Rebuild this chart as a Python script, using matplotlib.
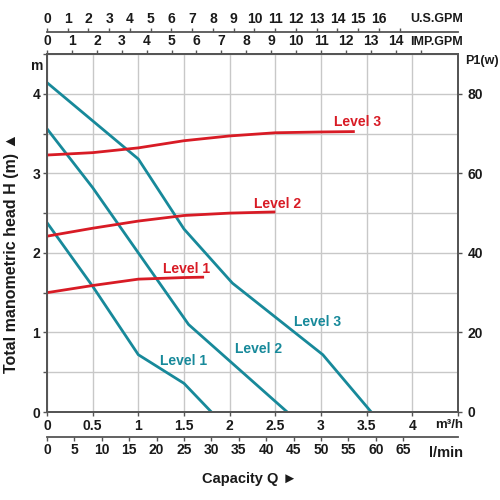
import matplotlib
matplotlib.use("Agg")
import matplotlib.pyplot as plt
import numpy as np

plt.rcParams['font.family'] = ['Liberation Sans', 'DejaVu Sans']
plt.rcParams['font.weight'] = 'bold'

# Head curves (Q in m3/h, H in m)
h1_q = [0.0, 0.5, 1.0, 1.5, 1.8]
h1_h = [2.38, 1.58, 0.72, 0.36, 0.0]
h2_q = [0.0, 0.5, 1.0, 1.55, 2.63]
h2_h = [3.56, 2.82, 2.0, 1.1, 0.0]
h3_q = [0.0, 0.5, 1.0, 1.5, 2.03, 3.02, 3.55]
h3_h = [4.14, 3.66, 3.18, 2.3, 1.62, 0.72, 0.0]

# Power curves (Q in m3/h, P1 in W)
p1_q = [0.0, 0.5, 1.0, 1.5, 1.72]
p1_w = [30.0, 31.8, 33.4, 33.8, 33.9]
p2_q = [0.0, 0.5, 1.0, 1.5, 2.0, 2.5]
p2_w = [44.2, 46.2, 48.0, 49.4, 50.0, 50.3]
p3_q = [0.0, 0.5, 1.0, 1.5, 2.0, 2.5, 3.0, 3.37]
p3_w = [64.6, 65.2, 66.4, 68.2, 69.4, 70.2, 70.4, 70.5]

labels = ["Level 1", "Level 2", "Level 3"]

TEAL = '#17899a'
RED = '#d81b25'
SPINE = '#555555'
GRID = '#c8c8c8'
TXT = '#1a1a1a'
TFS = 10

fig = plt.figure(figsize=(5, 5), dpi=100)
ax = fig.add_axes([47/500, 1-412/500, (458-47)/500, (412-54)/500])
ax.set_xlim(0, 4.5)
ax.set_ylim(0, 4.5)

ax.set_xticks(np.arange(0, 4.51, 0.5))
ax.set_yticks(np.arange(0, 4.51, 0.5))
ax.grid(True, color=GRID, lw=1)
ax.set_axisbelow(True)

ax.set_xticklabels(['0', '0.5', '1', '1.5', '2', '2.5', '3', '3.5', '4', ''])
ax.set_yticklabels(['0', '', '1', '', '2', '', '3', '', '4', ''])
ax.tick_params(axis='both', direction='out', length=3, width=1, color=SPINE,
               labelsize=TFS, labelcolor=TXT, pad=2)
for s in ax.spines.values():
    s.set_color(SPINE)
    s.set_linewidth(1.3)

# Curves
for q, h in [(h1_q, h1_h), (h2_q, h2_h), (h3_q, h3_h)]:
    ax.plot(q, h, color=TEAL, lw=2, solid_capstyle='butt')

ax2 = ax.twinx()
ax2.set_ylim(0, 90)
ax2.set_yticks([0, 20, 40, 60, 80])
ax2.tick_params(axis='y', direction='out', length=3, width=1, color=SPINE,
                labelsize=TFS, labelcolor=TXT, pad=4)
for s in ax2.spines.values():
    s.set_color(SPINE)
    s.set_linewidth(1.3)
for q, w in [(p1_q, p1_w), (p2_q, p2_w), (p3_q, p3_w)]:
    ax2.plot(q, w, color=RED, lw=2, solid_capstyle='butt')

# Curve labels
fs = 10
ax.text(1.24, 0.64, labels[0], color=TEAL, fontsize=fs, fontweight='bold', va='center')
ax.text(2.06, 0.79, labels[1], color=TEAL, fontsize=fs, fontweight='bold', va='center')
ax.text(2.70, 1.13, labels[2], color=TEAL, fontsize=fs, fontweight='bold', va='center')
ax.text(1.27, 1.80, labels[0], color=RED, fontsize=fs, fontweight='bold', va='center')
ax.text(2.27, 2.62, labels[1], color=RED, fontsize=fs, fontweight='bold', va='center')
ax.text(3.14, 3.65, labels[2], color=RED, fontsize=fs, fontweight='bold', va='center')

# Secondary axes
def mk_sec(loc, fwd, inv, ticks, ticklabels):
    sec = ax.secondary_xaxis(loc, functions=(fwd, inv))
    sec.set_xticks(ticks)
    sec.set_xticklabels(ticklabels)
    sec.tick_params(direction='out', length=3, width=1, color=SPINE,
                    labelsize=TFS, labelcolor=TXT, pad=1)
    for s in sec.spines.values():
        s.set_color(SPINE)
        s.set_linewidth(1.3)
    return sec

IMP = 1000/60/4.54609
USG = 1000/60/3.78541
LMIN = 1000/60

h_ax = 412-54
imp_t = list(range(0, 16))
mk_sec('top', lambda x: x*IMP, lambda x: x/IMP, imp_t,
       [str(t) if t <= 14 else '' for t in imp_t])
us_t = list(range(0, 18))
mk_sec(1 + (54-32)/h_ax, lambda x: x*USG, lambda x: x/USG, us_t,
       [str(t) if t <= 16 else '' for t in us_t])
lm_t = list(range(0, 66, 5))
mk_sec(-(437-412)/h_ax, lambda x: x*LMIN, lambda x: x/LMIN, lm_t,
       [str(t) for t in lm_t])

# Axis unit texts
fig.text(463/500, 1-19/500, 'U.S.GPM', ha='right', va='center', fontsize=9, fontweight='bold', color=TXT)
fig.text(463/500, 1-42/500, 'IMP.GPM', ha='right', va='center', fontsize=9, fontweight='bold', color=TXT)
fig.text(463/500, 1-425/500, 'm³/h', ha='right', va='center', fontsize=9.5, fontweight='bold', color=TXT)
fig.text(463/500, 1-453/500, 'l/min', ha='right', va='center', fontsize=10.5, fontweight='bold', color=TXT)
fig.text(465/500, 1-61/500, 'P1(w)', ha='left', va='center', fontsize=9, fontweight='bold', color=TXT)
fig.text(37/500, 1-66/500, 'm', ha='center', va='center', fontsize=TFS, fontweight='bold', color=TXT)
fig.text(250/500, 1-479/500, 'Capacity Q ►', ha='center', va='center', fontsize=10.5, fontweight='bold', color=TXT)
fig.text(12/500, 1-253/500, 'Total manometric head H (m) ▲', ha='center', va='center',
         rotation=90, fontsize=11.5, fontweight='bold', color=TXT)

fig.savefig('out.png', dpi=100)
